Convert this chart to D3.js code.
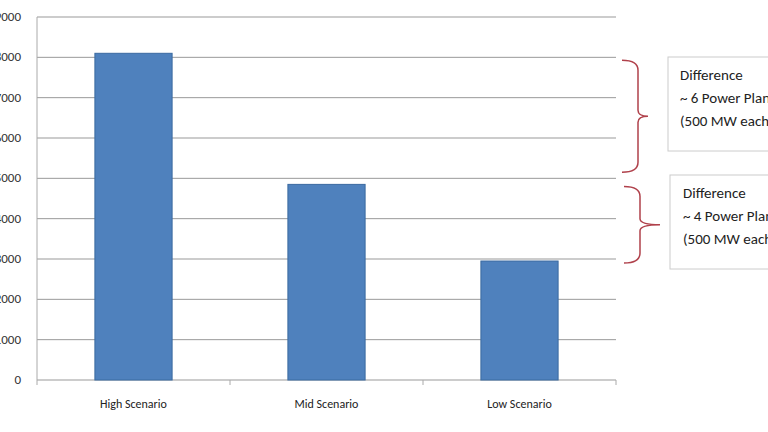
<!DOCTYPE html><html><head><meta charset="utf-8"><script src="https://cdn.jsdelivr.net/npm/d3@7"></script>
<style>body{margin:0;background:#fff}svg{display:block;font-family:Calibri,Carlito,"Liberation Sans",sans-serif}</style></head><body>
<svg id="c" width="768" height="432"></svg>
<script>
const categories=["High Scenario","Mid Scenario","Low Scenario"];
const values=[8100,4850,2950];
const ticks=[0,1000,2000,3000,4000,5000,6000,7000,8000,9000];
const notes=[{y0:8100,y1:5100,lines:["Difference","~ 6 Power Plants","(500 MW each)"]},{y0:4850,y1:2950,lines:["Difference","~ 4 Power Plants","(500 MW each)"]}];
const svg=d3.select("#c");
const x=d3.scaleBand().domain(categories).range([37,616]).paddingInner(0.6).paddingOuter(0.3);
const y=d3.scaleLinear().domain([0,9000]).range([380,17]);
svg.append("g").selectAll("line").data(ticks).join("line").attr("x1",37).attr("x2",616).attr("y1",d=>y(d)).attr("y2",d=>y(d)).attr("stroke","#999").attr("stroke-width",1);
svg.append("line").attr("x1",37).attr("x2",37).attr("y1",17).attr("y2",380).attr("stroke","#aaa");
svg.append("g").selectAll("text").data(ticks).join("text").attr("x",21).attr("y",d=>y(d)+4).attr("text-anchor","end").attr("font-size",13).attr("fill","#333").text(d=>d);
svg.append("g").selectAll("line").data([0,1,2,3]).join("line").attr("x1",d=>37+d*(579/3)).attr("x2",d=>37+d*(579/3)).attr("y1",380).attr("y2",385).attr("stroke","#aaa");
svg.append("g").selectAll("rect").data(values).join("rect").attr("x",(d,i)=>x(categories[i])).attr("width",x.bandwidth()).attr("y",d=>y(d)).attr("height",d=>380-y(d)).attr("fill","#4f81bd").attr("stroke","#3a6aa0");
svg.append("g").selectAll("text").data(categories).join("text").attr("x",d=>x(d)+x.bandwidth()/2).attr("y",408).attr("text-anchor","middle").attr("font-size",12).attr("fill","#222").text(d=>d);
const bx=[[622,648],[624,660]];
notes.forEach((n,i)=>{
 const a=y(n.y0)+7-(i?5:0), b=i?y(n.y1)+2:y(n.y1)-2, m=(a+b)/2, x0=bx[i][0], x1=x0+16, t=bx[i][1];
 svg.append("path").attr("d",`M${x0},${a} Q${x1},${a} ${x1},${a+10} L${x1},${m-6} Q${x1},${m} ${t},${m} Q${x1},${m} ${x1},${m+6} L${x1},${b-10} Q${x1},${b} ${x0},${b}`).attr("fill","none").attr("stroke","#b0414b").attr("stroke-width",1.5);
 const top=i?175:57;
 svg.append("rect").attr("x",i?670:668).attr("y",top).attr("width",120).attr("height",94).attr("fill","#fff").attr("stroke","#ccc");
 n.lines.forEach((l,j)=>svg.append("text").attr("x",(i?683:680)).attr("y",top+23+j*23).attr("font-size",15).attr("fill","#222").text(l));
});
</script></body></html>
